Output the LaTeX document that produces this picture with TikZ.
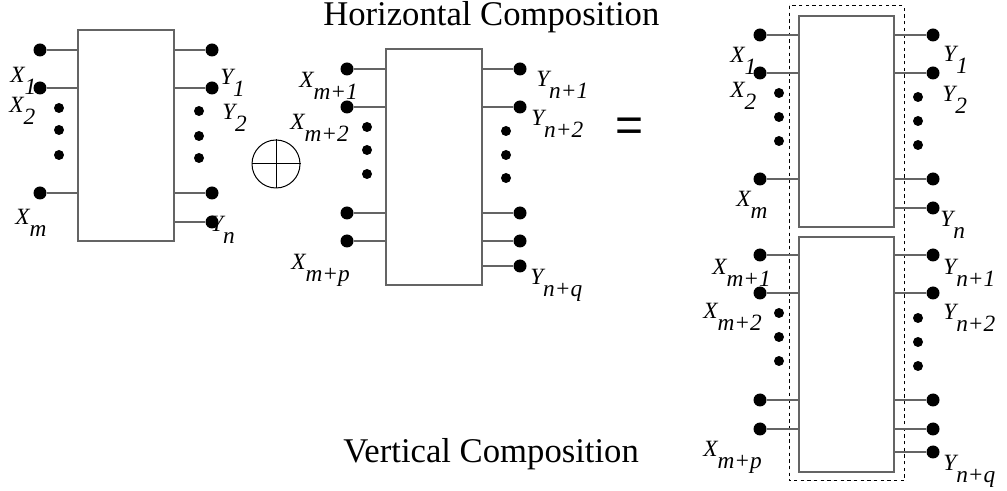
\documentclass[tikz,border=0pt]{standalone}
\usepackage{fontspec}
\setmainfont{Liberation Serif}
\newfontfamily\eqfont{Liberation Sans}
\definecolor{wirecol}{RGB}{100,100,100}
\newcommand{\sublab}[2]{#1\raisebox{-0.5em}{#2}}
\tikzset{
  pin/.style={circle, fill=black, inner sep=0pt, minimum size=9.75pt},
  sdot/.style={circle, fill=black, inner sep=0pt, minimum size=7.5pt},
  wire/.style={draw=wirecol, line width=0.8pt},
  blockbox/.style={draw=wirecol, line width=0.9pt},
  lab/.style={anchor=base west, inner sep=0pt, font=\fontsize{17.5}{20}\selectfont\itshape},
  title/.style={anchor=base west, inner sep=0pt, font=\fontsize{26}{30}\selectfont},
}
\begin{document}
\begin{tikzpicture}[x=0.75pt,y=-0.75pt]
\useasboundingbox (0,0) rectangle (1007,491);

% ---------- Block 1 ----------
\coordinate (b1nw) at (78,30); \coordinate (b1se) at (174,241);
\draw[blockbox] (b1nw) rectangle (b1se);
\foreach \y [count=\i] in {50,88,193} {
  \node[pin] (b1l\i) at (40,\y) {};
  \draw[wire] (b1l\i) -- (b1nw |- b1l\i);
}
\foreach \y [count=\i] in {108,130,155} \node[sdot] (b1ld\i) at (59,\y) {};
\foreach \y [count=\i] in {50,88,193,222} {
  \node[pin] (b1r\i) at (212,\y) {};
  \draw[wire] (b1r\i) -- (b1se |- b1r\i);
}
\foreach \y [count=\i] in {111,136,158} \node[sdot] (b1rd\i) at (199,\y) {};
\node[lab] (b1x1) at (10,83) {\sublab{X}{1}};
\node[lab] (b1x2) at (9,113) {\sublab{X}{2}};
\node[lab] (b1xm) at (15,225) {\sublab{X}{m}};
\node[lab] (b1y1) at (220,85) {\sublab{Y}{1}};
\node[lab] (b1y2) at (222,120) {\sublab{Y}{2}};
\node[lab] (b1yn) at (210,232) {\sublab{Y}{n}};

% ---------- plus ----------
\node[circle, draw, line width=0.75pt, minimum size=36pt, inner sep=0pt] (plus) at (276,164) {};
\draw[line width=0.75pt] (plus.north) -- (plus.south) (plus.west) -- (plus.east);

% ---------- Block 2 ----------
\coordinate (b2nw) at (386,49); \coordinate (b2se) at (482,285);
\draw[blockbox] (b2nw) rectangle (b2se);
\foreach \y [count=\i] in {69,107,213,241} {
  \node[pin] (b2l\i) at (347,\y) {};
  \draw[wire] (b2l\i) -- (b2nw |- b2l\i);
}
\foreach \y [count=\i] in {127,150,174} \node[sdot] (b2ld\i) at (367,\y) {};
\foreach \y [count=\i] in {69,107,213,241,266} {
  \node[pin] (b2r\i) at (520,\y) {};
  \draw[wire] (b2r\i) -- (b2se |- b2r\i);
}
\foreach \y [count=\i] in {131,155,178} \node[sdot] (b2rd\i) at (506,\y) {};
\node[lab] (b2x1) at (299,88) {\sublab{X}{m+1}};
\node[lab] (b2x2) at (290,130) {\sublab{X}{m+2}};
\node[lab] (b2xp) at (291,270) {\sublab{X}{m+p}};
\node[lab] (b2y1) at (536,87) {\sublab{Y}{n+1}};
\node[lab] (b2y2) at (531,126) {\sublab{Y}{n+2}};
\node[lab] (b2yq) at (530,285) {\sublab{Y}{n+q}};

% ---------- equals ----------
\node[inner sep=0pt, font=\eqfont\fontsize{36}{40}\selectfont] (eq) at (630,130) {=};

% ---------- titles ----------
\node[title] (htitle) at (323,26) {Horizontal Composition};
\node[title] (vtitle) at (343,463) {Vertical Composition};

% ---------- dashed frame ----------
\draw[dashed, line width=0.75pt, dash pattern=on 2.5pt off 2.5pt] (789,6) rectangle (904,481);

% ---------- Block 3 ----------
\coordinate (b3nw) at (799,16); \coordinate (b3se) at (894,227);
\draw[blockbox] (b3nw) rectangle (b3se);
\foreach \y [count=\i] in {35,73,179} {
  \node[pin] (b3l\i) at (760,\y) {};
  \draw[wire] (b3l\i) -- (b3nw |- b3l\i);
}
\foreach \y [count=\i] in {93,117,141} \node[sdot] (b3ld\i) at (779,\y) {};
\foreach \y [count=\i] in {35,73,179,208} {
  \node[pin] (b3r\i) at (933,\y) {};
  \draw[wire] (b3r\i) -- (b3se |- b3r\i);
}
\foreach \y [count=\i] in {97,121,145} \node[sdot] (b3rd\i) at (918,\y) {};
\node[lab] (b3x1) at (730,63) {\sublab{X}{1}};
\node[lab] (b3x2) at (730,98) {\sublab{X}{2}};
\node[lab] (b3xm) at (736,207) {\sublab{X}{m}};
\node[lab] (b3y1) at (943,62) {\sublab{Y}{1}};
\node[lab] (b3y2) at (942,102) {\sublab{Y}{2}};
\node[lab] (b3yn) at (940,227) {\sublab{Y}{n}};

% ---------- Block 4 ----------
\coordinate (b4nw) at (799,237); \coordinate (b4se) at (894,472);
\draw[blockbox] (b4nw) rectangle (b4se);
\foreach \y [count=\i] in {255,293,400,429} {
  \node[pin] (b4l\i) at (760,\y) {};
  \draw[wire] (b4l\i) -- (b4nw |- b4l\i);
}
\foreach \y [count=\i] in {313,337,361} \node[sdot] (b4ld\i) at (779,\y) {};
\foreach \y [count=\i] in {255,293,400,429,452} {
  \node[pin] (b4r\i) at (933,\y) {};
  \draw[wire] (b4r\i) -- (b4se |- b4r\i);
}
\foreach \y [count=\i] in {318,342,366} \node[sdot] (b4rd\i) at (918,\y) {};
\node[lab] (b4x1) at (712,275) {\sublab{X}{m+1}};
\node[lab] (b4x2) at (703,319) {\sublab{X}{m+2}};
\node[lab] (b4xp) at (703,457) {\sublab{X}{m+p}};
\node[lab] (b4y1) at (943,275) {\sublab{Y}{n+1}};
\node[lab] (b4y2) at (943,320) {\sublab{Y}{n+2}};
\node[lab] (b4yq) at (943,471) {\sublab{Y}{n+q}};
\end{tikzpicture}
\end{document}
